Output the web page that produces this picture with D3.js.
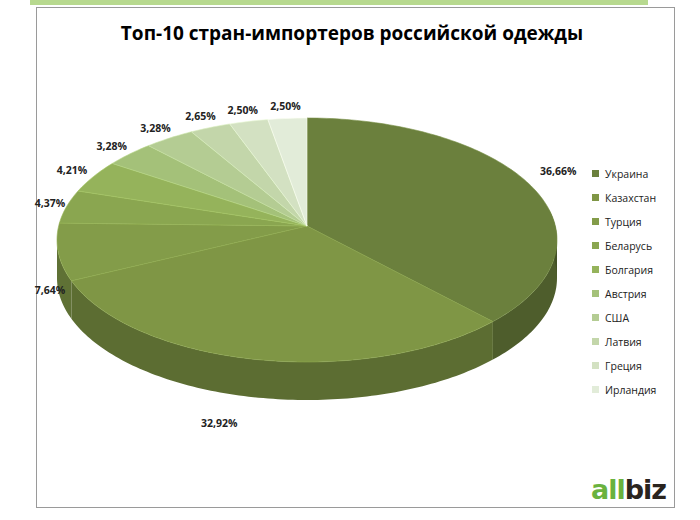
<!DOCTYPE html>
<html><head><meta charset="utf-8">
<script src="https://cdn.jsdelivr.net/npm/d3@7"></script>
<style>body{margin:0;background:#fff}</style></head>
<body><svg id="c" width="700" height="520"></svg>
<script>
const countries = ['Украина','Казахстан','Турция','Беларусь','Болгария','Австрия','США','Латвия','Греция','Ирландия'];
const shares = [36.66,32.92,7.64,4.37,4.21,3.28,3.28,2.65,2.50,2.50];
const colors = ['#6b803d','#7f9645','#839c49','#8aa650','#95b35b','#a4c179','#b4cc93','#c3d6aa','#d3e1c2','#e2ecd9'];

const svg = d3.select('#c');
const cx = 307, cy = 240, rx = 250, ry = 122, depth = 38;

svg.append('rect').attr('x', 30).attr('y', 0).attr('width', 618).attr('height', 5).attr('fill', '#b7d98f');
svg.append('rect').attr('x', 36.5).attr('y', 7.5).attr('width', 638).attr('height', 500)
  .attr('fill', '#fff').attr('stroke', '#9a9a9a');

svg.append('text').attr('x', 352).attr('y', 40).attr('text-anchor', 'middle')
  .attr('font-family', 'Open Sans, sans-serif').attr('font-weight', 'bold').attr('font-size', 19)
  .text('Топ-10 стран-импортеров российской одежды');

const pie = d3.pie().sort(null).value(d => d)(shares);
const pt = (a, dy = 0) => [cx + rx * Math.sin(a), cy - ry * Math.cos(a) + dy];
const arcPts = (a0, a1, dy = 0) => {
  const n = Math.max(2, Math.ceil((a1 - a0) / 0.02));
  return d3.range(n + 1).map(i => pt(a0 + (a1 - a0) * i / n, dy));
};
const line = d3.line();

const walls = svg.append('g');
pie.forEach((s, i) => {
  const a0 = Math.max(s.startAngle, Math.PI / 2), a1 = Math.min(s.endAngle, 3 * Math.PI / 2);
  if (a1 <= a0) return;
  const top = arcPts(a0, a1), bot = arcPts(a0, a1, depth).reverse();
  walls.append('path').attr('d', line(top.concat(bot)) + 'Z').attr('fill', d3.color(colors[i]).darker(0.9));
});
pie.forEach((s, i) => {
  const a0 = Math.max(s.startAngle, Math.PI * 0.42), a1 = Math.min(s.endAngle, Math.PI / 2);
  if (a1 <= a0) return;
  const top = arcPts(a0, a1), bot = arcPts(a0, a1, depth).reverse();
  walls.append('path').attr('d', line(top.concat(bot)) + 'Z').attr('fill', d3.color(colors[i]).darker(1.3));
});

// apex slightly raised for perspective look
const apex = [cx, cy - 14];
const tops = svg.append('g');
pie.forEach((s, i) => {
  const p = [apex].concat(arcPts(s.startAngle, s.endAngle));
  tops.append('path').attr('d', line(p) + 'Z').attr('fill', colors[i])
    .attr('stroke', d3.color(colors[i]).brighter(0.3)).attr('stroke-width', 0.6);
});

const fmt = v => v.toFixed(2).replace('.', ',') + '%';
const lab = svg.append('g').attr('font-family', 'Open Sans, sans-serif').attr('font-weight', 'bold')
  .attr('font-size', 10.5).attr('fill', '#222').attr('text-anchor', 'middle');
pie.forEach((s, i) => {
  let a = (s.startAngle + s.endAngle) / 2;
  if (i === 1) a = 3.5;
  const k = i === 1 ? 1.0 : 1.1;
  const front = Math.cos(a) < 0;
  const x = Math.max(50, cx + rx * k * Math.sin(a));
  const y = cy - ry * k * Math.cos(a) + (front ? depth + (i === 1 ? 35 : 2) : (i === 0 ? -10 : 4));
  lab.append('text').attr('x', x).attr('y', y).text(fmt(shares[i]));
});

const lg = svg.append('g').attr('font-family', 'Open Sans, sans-serif').attr('font-size', 10.5).attr('fill', '#222');
const ly = d3.scalePoint().domain(countries).range([174, 390]);
countries.forEach((c, i) => {
  lg.append('rect').attr('x', 592).attr('y', ly(c) - 4).attr('width', 7).attr('height', 7).attr('fill', colors[i]);
  lg.append('text').attr('x', 605).attr('y', ly(c) + 3.5).text(c);
});

const logo = svg.append('text').attr('x', 666).attr('y', 499).attr('text-anchor', 'end')
  .attr('font-family', 'DejaVu Sans, sans-serif').attr('font-weight', 'bold').attr('font-size', 27)
  .attr('letter-spacing', -1);
logo.append('tspan').attr('fill', '#6ab23e').text('all');
logo.append('tspan').attr('fill', '#2a241e').text('biz');
</script></body></html>
